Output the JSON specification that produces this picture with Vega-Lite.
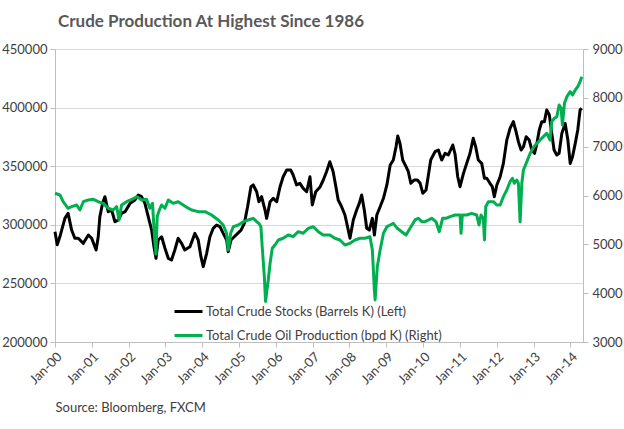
{
  "$schema": "https://vega.github.io/schema/vega-lite/v6.json",
  "autosize": "none",
  "width": 528,
  "height": 293,
  "padding": {"left": 55, "top": 49, "right": 41, "bottom": 87},
  "background": "white",
  "config": {
    "view": {"stroke": null},
    "font": "Lato",
    "axis": {"labelFont": "Lato", "labelColor": "#404040", "labelFontSize": 13, "domainColor": "#bfbfbf", "tickColor": "#bfbfbf", "tickSize": 5, "titleFont": "Lato"}
  },
  "title": {
    "text": "Crude Production At Highest Since 1986",
    "anchor": "start",
    "frame": "group",
    "font": "Lato",
    "fontSize": 17,
    "fontWeight": "bold",
    "color": "#595959",
    "dx": 3,
    "offset": 12
  },
  "datasets": {
    "stocks": [
      {"date": "2000-01-01", "value": 294000},
      {"date": "2000-01-23", "value": 283000},
      {"date": "2000-02-19", "value": 290000},
      {"date": "2000-04-08", "value": 305500},
      {"date": "2000-05-10", "value": 309800},
      {"date": "2000-06-14", "value": 295500},
      {"date": "2000-07-16", "value": 288500},
      {"date": "2000-08-19", "value": 288500},
      {"date": "2000-10-08", "value": 284200},
      {"date": "2000-11-27", "value": 291300},
      {"date": "2000-12-30", "value": 288500},
      {"date": "2001-02-12", "value": 278500},
      {"date": "2001-03-05", "value": 289800},
      {"date": "2001-03-21", "value": 306900},
      {"date": "2001-04-17", "value": 318300},
      {"date": "2001-05-10", "value": 324000},
      {"date": "2001-06-12", "value": 311200},
      {"date": "2001-07-16", "value": 312600},
      {"date": "2001-08-18", "value": 302600},
      {"date": "2001-09-20", "value": 304100},
      {"date": "2001-10-23", "value": 309800},
      {"date": "2001-11-26", "value": 311200},
      {"date": "2002-01-15", "value": 318300},
      {"date": "2002-03-04", "value": 321200},
      {"date": "2002-04-06", "value": 325400},
      {"date": "2002-05-09", "value": 324000},
      {"date": "2002-06-11", "value": 318300},
      {"date": "2002-07-14", "value": 306900},
      {"date": "2002-08-17", "value": 295500},
      {"date": "2002-09-09", "value": 281300},
      {"date": "2002-09-29", "value": 271400},
      {"date": "2002-10-21", "value": 287000},
      {"date": "2002-11-24", "value": 289800},
      {"date": "2002-12-27", "value": 280000},
      {"date": "2003-01-29", "value": 271400},
      {"date": "2003-03-02", "value": 270000},
      {"date": "2003-04-04", "value": 278500},
      {"date": "2003-05-07", "value": 288500},
      {"date": "2003-06-10", "value": 284200},
      {"date": "2003-07-12", "value": 278500},
      {"date": "2003-09-01", "value": 281300},
      {"date": "2003-10-20", "value": 292700},
      {"date": "2003-11-22", "value": 287000},
      {"date": "2003-12-19", "value": 272800},
      {"date": "2004-01-11", "value": 264300},
      {"date": "2004-02-14", "value": 275700},
      {"date": "2004-03-17", "value": 289800},
      {"date": "2004-04-19", "value": 297000},
      {"date": "2004-05-22", "value": 299800},
      {"date": "2004-06-25", "value": 298400},
      {"date": "2004-07-27", "value": 292700},
      {"date": "2004-08-30", "value": 287000},
      {"date": "2004-09-15", "value": 277000},
      {"date": "2004-10-12", "value": 287000},
      {"date": "2004-11-14", "value": 289800},
      {"date": "2004-12-18", "value": 292700},
      {"date": "2005-01-20", "value": 295500},
      {"date": "2005-02-22", "value": 301200},
      {"date": "2005-03-26", "value": 315400},
      {"date": "2005-04-28", "value": 332500},
      {"date": "2005-05-21", "value": 334000},
      {"date": "2005-06-24", "value": 328200},
      {"date": "2005-07-16", "value": 319700},
      {"date": "2005-08-12", "value": 324000},
      {"date": "2005-09-15", "value": 312600},
      {"date": "2005-10-01", "value": 305500},
      {"date": "2005-11-04", "value": 319700},
      {"date": "2005-12-06", "value": 322600},
      {"date": "2006-01-09", "value": 319700},
      {"date": "2006-02-11", "value": 332500},
      {"date": "2006-03-14", "value": 341000},
      {"date": "2006-04-17", "value": 346700},
      {"date": "2006-05-29", "value": 346700},
      {"date": "2006-06-21", "value": 342500},
      {"date": "2006-07-25", "value": 334000},
      {"date": "2006-08-27", "value": 335400},
      {"date": "2006-09-29", "value": 331100},
      {"date": "2006-11-02", "value": 328200},
      {"date": "2006-12-05", "value": 341000},
      {"date": "2006-12-28", "value": 316900},
      {"date": "2007-01-31", "value": 328200},
      {"date": "2007-03-13", "value": 332000},
      {"date": "2007-04-15", "value": 338000},
      {"date": "2007-05-18", "value": 345300},
      {"date": "2007-06-20", "value": 353800},
      {"date": "2007-07-23", "value": 345300},
      {"date": "2007-08-19", "value": 332500},
      {"date": "2007-09-11", "value": 321200},
      {"date": "2007-10-15", "value": 315400},
      {"date": "2007-11-17", "value": 308400},
      {"date": "2007-12-20", "value": 295500},
      {"date": "2008-01-06", "value": 288500},
      {"date": "2008-02-08", "value": 304100},
      {"date": "2008-03-12", "value": 312600},
      {"date": "2008-04-07", "value": 318300},
      {"date": "2008-05-01", "value": 325400},
      {"date": "2008-05-27", "value": 312600},
      {"date": "2008-06-20", "value": 297000},
      {"date": "2008-07-16", "value": 295500},
      {"date": "2008-08-15", "value": 305500},
      {"date": "2008-09-04", "value": 291300},
      {"date": "2008-09-28", "value": 308400},
      {"date": "2008-10-31", "value": 315400},
      {"date": "2008-12-03", "value": 322600},
      {"date": "2009-01-06", "value": 334000},
      {"date": "2009-02-08", "value": 351000},
      {"date": "2009-03-11", "value": 355300},
      {"date": "2009-04-07", "value": 366600},
      {"date": "2009-04-24", "value": 375800},
      {"date": "2009-05-16", "value": 369500},
      {"date": "2009-06-12", "value": 355300},
      {"date": "2009-07-15", "value": 349600},
      {"date": "2009-08-07", "value": 345300},
      {"date": "2009-09-01", "value": 335400},
      {"date": "2009-10-03", "value": 338200},
      {"date": "2009-11-05", "value": 338200},
      {"date": "2009-12-02", "value": 335400},
      {"date": "2009-12-29", "value": 326900},
      {"date": "2010-01-30", "value": 329700},
      {"date": "2010-02-22", "value": 342500},
      {"date": "2010-03-17", "value": 355300},
      {"date": "2010-04-29", "value": 362400},
      {"date": "2010-06-01", "value": 363800},
      {"date": "2010-07-04", "value": 355300},
      {"date": "2010-08-06", "value": 361000},
      {"date": "2010-09-08", "value": 359600},
      {"date": "2010-10-22", "value": 368100},
      {"date": "2010-11-14", "value": 360000},
      {"date": "2010-12-10", "value": 341000},
      {"date": "2011-01-02", "value": 332500},
      {"date": "2011-02-05", "value": 343900},
      {"date": "2011-03-09", "value": 352400},
      {"date": "2011-04-11", "value": 361000},
      {"date": "2011-05-13", "value": 373800},
      {"date": "2011-06-06", "value": 366600},
      {"date": "2011-07-02", "value": 355300},
      {"date": "2011-08-05", "value": 352400},
      {"date": "2011-09-01", "value": 339700},
      {"date": "2011-09-24", "value": 339700},
      {"date": "2011-10-26", "value": 335400},
      {"date": "2011-11-18", "value": 332500},
      {"date": "2011-12-08", "value": 324000},
      {"date": "2012-01-02", "value": 334000},
      {"date": "2012-02-04", "value": 341000},
      {"date": "2012-03-07", "value": 352400},
      {"date": "2012-04-10", "value": 372300},
      {"date": "2012-05-12", "value": 382300},
      {"date": "2012-06-14", "value": 388000},
      {"date": "2012-07-11", "value": 379400},
      {"date": "2012-08-03", "value": 370900},
      {"date": "2012-08-30", "value": 363800},
      {"date": "2012-09-22", "value": 366600},
      {"date": "2012-10-19", "value": 375100},
      {"date": "2012-11-18", "value": 372300},
      {"date": "2012-12-15", "value": 363800},
      {"date": "2013-01-10", "value": 361000},
      {"date": "2013-02-03", "value": 369500},
      {"date": "2013-02-26", "value": 380900},
      {"date": "2013-03-23", "value": 388000},
      {"date": "2013-04-18", "value": 388000},
      {"date": "2013-05-11", "value": 398000},
      {"date": "2013-06-06", "value": 393700},
      {"date": "2013-06-30", "value": 378000},
      {"date": "2013-07-23", "value": 363800},
      {"date": "2013-08-19", "value": 359600},
      {"date": "2013-09-11", "value": 361000},
      {"date": "2013-10-08", "value": 378000},
      {"date": "2013-11-10", "value": 386500},
      {"date": "2013-12-07", "value": 372300},
      {"date": "2013-12-30", "value": 352400},
      {"date": "2014-01-22", "value": 358100},
      {"date": "2014-02-18", "value": 369500},
      {"date": "2014-03-15", "value": 380900},
      {"date": "2014-04-07", "value": 398000},
      {"date": "2014-04-24", "value": 399400}
    ],
    "production": [
      {"date": "2000-01-01", "value": 6046},
      {"date": "2000-02-19", "value": 6011},
      {"date": "2000-03-22", "value": 5873},
      {"date": "2000-05-10", "value": 5738},
      {"date": "2000-06-14", "value": 5771},
      {"date": "2000-08-03", "value": 5806},
      {"date": "2000-09-04", "value": 5703},
      {"date": "2000-10-08", "value": 5873},
      {"date": "2000-11-27", "value": 5908},
      {"date": "2001-01-16", "value": 5922},
      {"date": "2001-03-05", "value": 5873},
      {"date": "2001-04-23", "value": 5840},
      {"date": "2001-06-12", "value": 5738},
      {"date": "2001-08-01", "value": 5703},
      {"date": "2001-09-04", "value": 5771},
      {"date": "2001-09-27", "value": 5499},
      {"date": "2001-10-23", "value": 5806},
      {"date": "2001-12-12", "value": 5873},
      {"date": "2002-02-01", "value": 5922},
      {"date": "2002-03-26", "value": 5976},
      {"date": "2002-05-09", "value": 5908},
      {"date": "2002-06-28", "value": 5922},
      {"date": "2002-07-30", "value": 5738},
      {"date": "2002-08-26", "value": 5840},
      {"date": "2002-09-12", "value": 5226},
      {"date": "2002-09-29", "value": 4800},
      {"date": "2002-10-11", "value": 5566},
      {"date": "2002-11-01", "value": 5703},
      {"date": "2002-11-24", "value": 5806},
      {"date": "2002-12-27", "value": 5738},
      {"date": "2003-01-29", "value": 5908},
      {"date": "2003-03-18", "value": 5840},
      {"date": "2003-05-07", "value": 5873},
      {"date": "2003-06-26", "value": 5806},
      {"date": "2003-08-15", "value": 5740},
      {"date": "2003-09-18", "value": 5703},
      {"date": "2003-11-22", "value": 5669},
      {"date": "2004-01-28", "value": 5669},
      {"date": "2004-04-03", "value": 5601},
      {"date": "2004-06-08", "value": 5499},
      {"date": "2004-07-27", "value": 5396},
      {"date": "2004-08-30", "value": 5226},
      {"date": "2004-09-15", "value": 4884},
      {"date": "2004-10-09", "value": 5226},
      {"date": "2004-11-04", "value": 5361},
      {"date": "2004-12-24", "value": 5396},
      {"date": "2005-02-12", "value": 5464},
      {"date": "2005-04-01", "value": 5499},
      {"date": "2005-05-21", "value": 5533},
      {"date": "2005-06-24", "value": 5464},
      {"date": "2005-07-16", "value": 5430},
      {"date": "2005-08-05", "value": 5361},
      {"date": "2005-08-18", "value": 4952},
      {"date": "2005-09-08", "value": 4337},
      {"date": "2005-09-20", "value": 3830},
      {"date": "2005-10-17", "value": 4270},
      {"date": "2005-11-04", "value": 4612},
      {"date": "2005-11-26", "value": 4919},
      {"date": "2005-12-23", "value": 4987},
      {"date": "2006-01-25", "value": 5089},
      {"date": "2006-03-14", "value": 5124},
      {"date": "2006-05-03", "value": 5191},
      {"date": "2006-06-21", "value": 5157},
      {"date": "2006-08-10", "value": 5259},
      {"date": "2006-09-29", "value": 5226},
      {"date": "2006-11-18", "value": 5328},
      {"date": "2007-01-07", "value": 5361},
      {"date": "2007-02-26", "value": 5259},
      {"date": "2007-04-15", "value": 5191},
      {"date": "2007-06-20", "value": 5191},
      {"date": "2007-08-09", "value": 5124},
      {"date": "2007-09-28", "value": 5089},
      {"date": "2007-11-17", "value": 4987},
      {"date": "2008-01-06", "value": 5021},
      {"date": "2008-02-25", "value": 5089},
      {"date": "2008-04-14", "value": 5124},
      {"date": "2008-06-03", "value": 5124},
      {"date": "2008-07-22", "value": 5157},
      {"date": "2008-08-15", "value": 4884},
      {"date": "2008-09-04", "value": 4065},
      {"date": "2008-09-11", "value": 3860},
      {"date": "2008-10-03", "value": 4542},
      {"date": "2008-10-31", "value": 4884},
      {"date": "2008-12-03", "value": 5226},
      {"date": "2009-01-06", "value": 5361},
      {"date": "2009-02-08", "value": 5396},
      {"date": "2009-03-11", "value": 5430},
      {"date": "2009-04-19", "value": 5328},
      {"date": "2009-06-02", "value": 5259},
      {"date": "2009-07-15", "value": 5191},
      {"date": "2009-08-24", "value": 5328},
      {"date": "2009-10-12", "value": 5499},
      {"date": "2009-11-15", "value": 5533},
      {"date": "2009-12-18", "value": 5464},
      {"date": "2010-01-20", "value": 5464},
      {"date": "2010-02-22", "value": 5499},
      {"date": "2010-03-26", "value": 5533},
      {"date": "2010-05-08", "value": 5464},
      {"date": "2010-06-10", "value": 5259},
      {"date": "2010-07-13", "value": 5533},
      {"date": "2010-08-16", "value": 5533},
      {"date": "2010-09-25", "value": 5566},
      {"date": "2010-11-14", "value": 5601},
      {"date": "2011-01-02", "value": 5601},
      {"date": "2011-01-12", "value": 5226},
      {"date": "2011-01-25", "value": 5601},
      {"date": "2011-03-09", "value": 5601},
      {"date": "2011-04-27", "value": 5635},
      {"date": "2011-06-16", "value": 5601},
      {"date": "2011-07-09", "value": 5396},
      {"date": "2011-07-29", "value": 5601},
      {"date": "2011-08-21", "value": 5533},
      {"date": "2011-09-01", "value": 5089},
      {"date": "2011-09-14", "value": 5771},
      {"date": "2011-10-10", "value": 5873},
      {"date": "2011-11-29", "value": 5873},
      {"date": "2012-01-02", "value": 5806},
      {"date": "2012-02-04", "value": 5806},
      {"date": "2012-03-07", "value": 5976},
      {"date": "2012-04-10", "value": 6113},
      {"date": "2012-05-12", "value": 6283},
      {"date": "2012-06-04", "value": 6352},
      {"date": "2012-06-24", "value": 6250},
      {"date": "2012-07-18", "value": 6318},
      {"date": "2012-08-03", "value": 6250},
      {"date": "2012-08-20", "value": 5460},
      {"date": "2012-09-06", "value": 6250},
      {"date": "2012-09-22", "value": 6523},
      {"date": "2012-10-26", "value": 6693},
      {"date": "2012-11-28", "value": 6864},
      {"date": "2012-12-31", "value": 6990},
      {"date": "2013-02-03", "value": 7069},
      {"date": "2013-03-06", "value": 7137},
      {"date": "2013-04-08", "value": 7205},
      {"date": "2013-05-11", "value": 7274},
      {"date": "2013-06-13", "value": 7137},
      {"date": "2013-06-30", "value": 7512},
      {"date": "2013-07-26", "value": 7581},
      {"date": "2013-08-19", "value": 7614},
      {"date": "2013-09-11", "value": 7854},
      {"date": "2013-10-01", "value": 7786},
      {"date": "2013-10-14", "value": 7444},
      {"date": "2013-11-03", "value": 7888},
      {"date": "2013-11-27", "value": 8024},
      {"date": "2013-12-30", "value": 8127},
      {"date": "2014-01-22", "value": 8059},
      {"date": "2014-02-18", "value": 8161},
      {"date": "2014-03-15", "value": 8229},
      {"date": "2014-04-07", "value": 8331},
      {"date": "2014-04-24", "value": 8433}
    ]
  },
  "encoding": {
    "x": {
      "field": "date",
      "type": "temporal",
      "scale": {"type": "utc", "domain": ["2000-01-01", "2014-05-06"]},
      "axis": {
        "format": "%b-%y",
        "tickCount": {"interval": "year", "step": 1},
        "labelAngle": -45,
        "labelAlign": "right",
        "labelBaseline": "top",
        "labelPadding": 3,
        "labelOverlap": false,
        "labelFlush": false,
        "grid": false,
        "title": "Source: Bloomberg, FXCM",
        "titleAnchor": "start",
        "titleAlign": "left",
        "titleBaseline": "middle",
        "titleX": 0,
        "titleY": 65,
        "titleFontSize": 13,
        "titleFontWeight": "normal",
        "titleColor": "#404040"
      }
    }
  },
  "layer": [
    {
      "data": {"name": "stocks"},
      "mark": {"type": "line", "strokeWidth": 3, "strokeJoin": "round"},
      "encoding": {
        "y": {
          "field": "value",
          "type": "quantitative",
          "scale": {"domain": [200000, 450000], "nice": false, "zero": false},
          "axis": {"orient": "left", "values": [200000, 250000, 300000, 350000, 400000, 450000], "format": "d", "title": null, "grid": true, "gridColor": "#d9d9d9", "labelPadding": 3}
        },
        "color": {
          "datum": "Total Crude Stocks (Barrels K) (Left)",
          "scale": {"domain": ["Total Crude Stocks (Barrels K) (Left)", "Total Crude Oil Production (bpd K) (Right)"], "range": ["#000000", "#00B050"]},
          "legend": {
            "title": null,
            "orient": "none",
            "legendX": 118,
            "legendY": 247,
            "symbolType": "stroke",
            "symbolSize": 784,
            "symbolStrokeWidth": 3,
            "labelFont": "Lato",
            "labelFontSize": 13,
            "labelColor": "#404040",
            "labelOffset": 2,
            "labelLimit": 400,
            "rowPadding": 1
          }
        }
      }
    },
    {
      "data": {"name": "production"},
      "mark": {"type": "line", "strokeWidth": 3, "strokeJoin": "round"},
      "encoding": {
        "y": {
          "field": "value",
          "type": "quantitative",
          "scale": {"domain": [3000, 9000], "nice": false, "zero": false},
          "axis": {"orient": "right", "values": [3000, 4000, 5000, 6000, 7000, 8000, 9000], "format": "d", "title": null, "grid": false, "labelPadding": 4}
        },
        "color": {"datum": "Total Crude Oil Production (bpd K) (Right)"}
      }
    }
  ],
  "resolve": {"scale": {"y": "independent"}}
}
